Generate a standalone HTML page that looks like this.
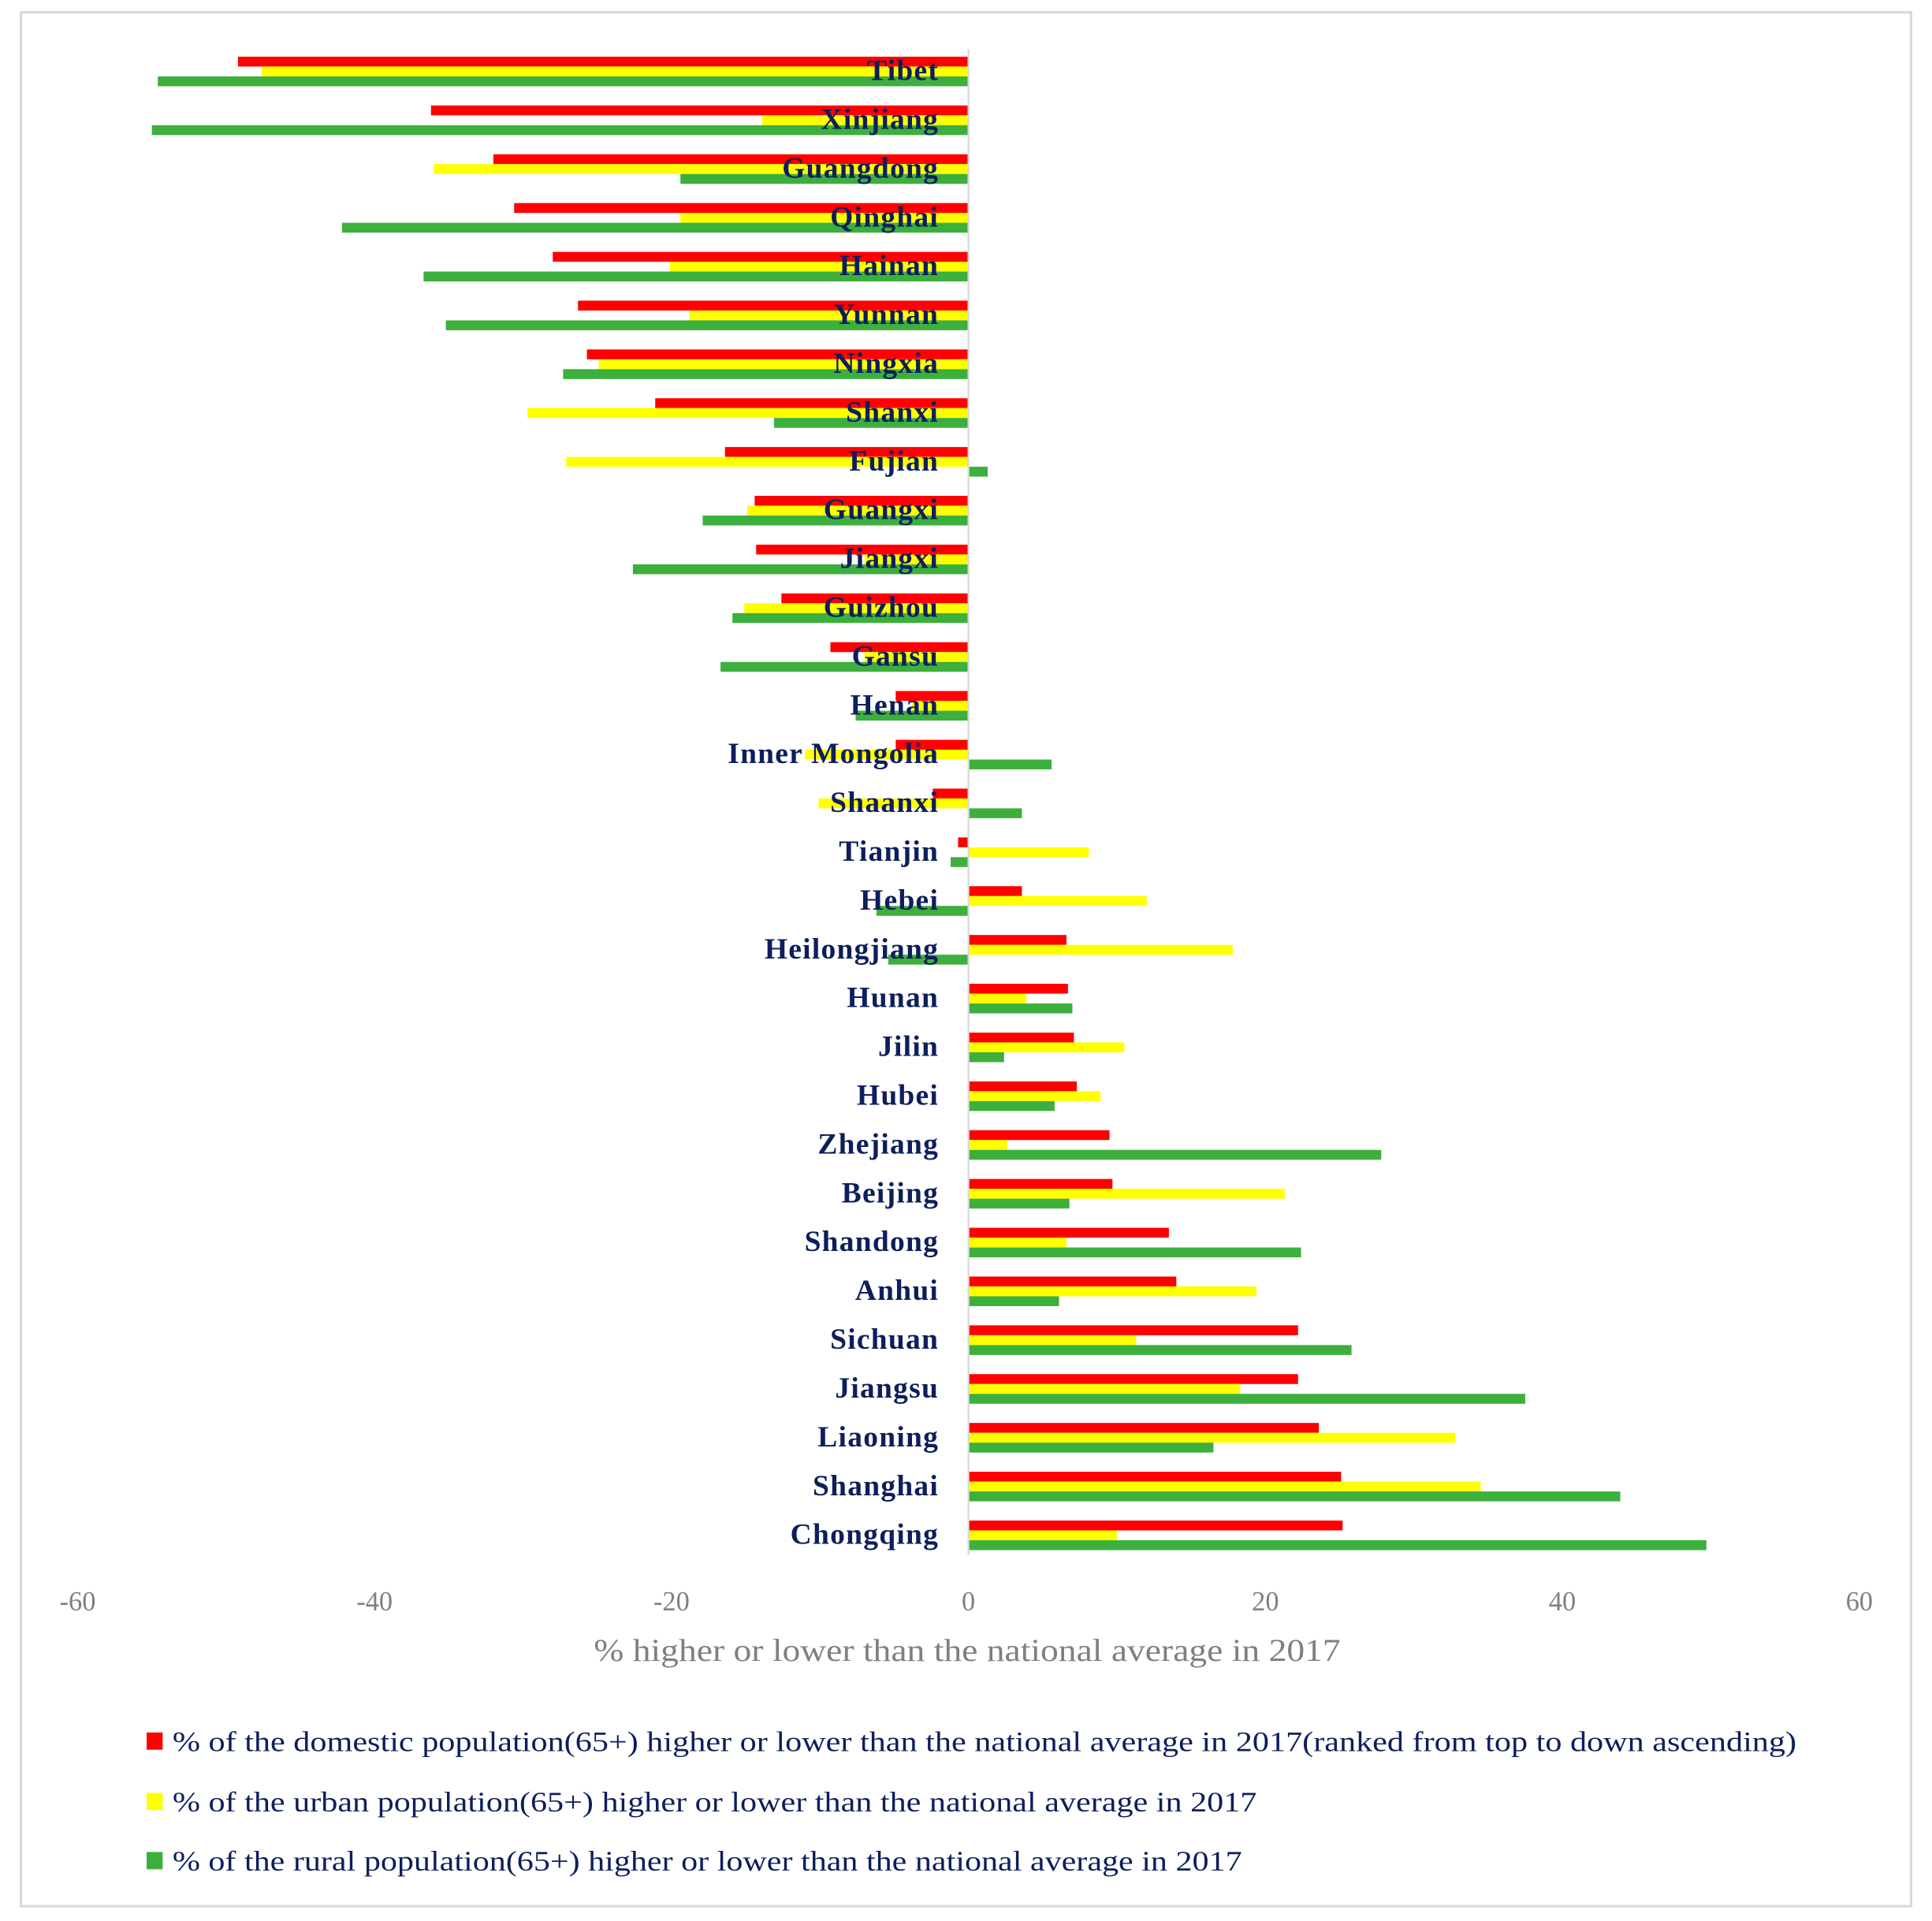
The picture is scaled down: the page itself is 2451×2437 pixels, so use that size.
<!DOCTYPE html>
<html><head><meta charset="utf-8"><style>
html,body{margin:0;padding:0;background:#fff;}
svg{display:block;}
</style></head><body>
<svg id="chart" width="2451" height="2437" viewBox="0 0 1568 1559" preserveAspectRatio="none" xmlns="http://www.w3.org/2000/svg">
<rect x="17" y="10" width="1534" height="1537" fill="#fff" stroke="#d9d9d9" stroke-width="2"/>
<g id="bars"></g>
<line x1="786" y1="40" x2="786" y2="1262" stroke="#d9d9d9" stroke-width="1.5"/>
<g id="labels"></g>
<g id="ticks"></g>
<text x="482" y="1348" textLength="606" lengthAdjust="spacingAndGlyphs" font-family="Liberation Serif, serif" font-size="26" fill="#7f7f7f">% higher or lower than the national average in 2017</text>
<g font-family="Liberation Serif, serif" font-size="23" fill="#0d1e5c">
<g><rect x="119" y="1406" width="13" height="14" fill="#ff0000"/><text x="140" y="1421" textLength="1318" lengthAdjust="spacingAndGlyphs">% of the domestic population(65+) higher or lower than the national average in 2017(ranked from top to down ascending)</text></g>
<g><rect x="119" y="1455" width="13" height="14" fill="#ffff00"/><text x="140" y="1470" textLength="880" lengthAdjust="spacingAndGlyphs">% of the urban population(65+) higher or lower than the national average in 2017</text></g>
<g><rect x="119" y="1503" width="13" height="14" fill="#3daf3d"/><text x="140" y="1518" textLength="868" lengthAdjust="spacingAndGlyphs">% of the rural population(65+) higher or lower than the national average in 2017</text></g>
</g>
</svg>
<script>
const categories=["Tibet","Xinjiang","Guangdong","Qinghai","Hainan","Yunnan","Ningxia","Shanxi","Fujian","Guangxi","Jiangxi","Guizhou","Gansu","Henan","Inner Mongolia","Shaanxi","Tianjin","Hebei","Heilongjiang","Hunan","Jilin","Hubei","Zhejiang","Beijing","Shandong","Anhui","Sichuan","Jiangsu","Liaoning","Shanghai","Chongqing"];
const domestic=[-49.2,-36.2,-32.0,-30.6,-28.0,-26.3,-25.7,-21.1,-16.4,-14.4,-14.3,-12.6,-9.3,-4.9,-4.9,-2.4,-0.7,3.6,6.6,6.7,7.1,7.3,9.5,9.7,13.5,14.0,22.2,22.2,23.6,25.1,25.2];
const urban=[-47.6,-13.9,-36.0,-19.4,-20.1,-18.8,-24.9,-29.7,-27.1,-14.9,-7.0,-15.1,-7.0,-3.8,-11.0,-10.1,8.1,12.0,17.8,3.9,10.5,8.9,2.6,21.3,6.6,19.4,11.3,18.3,32.8,34.5,10.0];
const rural=[-54.6,-55.0,-19.4,-42.2,-36.7,-35.2,-27.3,-13.1,1.3,-17.9,-22.6,-15.9,-16.7,-7.6,5.6,3.6,-1.2,-6.2,-5.4,7.0,2.4,5.8,27.8,6.8,22.4,6.1,25.8,37.5,16.5,43.9,49.7];
const tickValues=[-60,-40,-20,0,20,40,60];
const NS="http://www.w3.org/2000/svg";
const x=v=>786+v*12.05;
const yc=i=>58+i*39.6;
const bars=document.getElementById('bars'),labels=document.getElementById('labels'),ticks=document.getElementById('ticks');
const series=[[domestic,"#ff0000","domestic"],[urban,"#ffff00","urban"],[rural,"#3daf3d","rural"]];
categories.forEach((c,i)=>{
  series.forEach(([arr,col,nm],k)=>{
    const v=arr[i];const r=document.createElementNS(NS,'rect');
    r.setAttribute('x',Math.min(x(0),x(v)));r.setAttribute('width',Math.abs(x(v)-x(0)));
    r.setAttribute('y',yc(i)-12+k*8);r.setAttribute('height',8);r.setAttribute('fill',col);
    
    
    bars.appendChild(r);
  });
  const t=document.createElementNS(NS,'text');
  t.setAttribute('x',762);t.setAttribute('y',yc(i)+7);t.setAttribute('text-anchor','end');
  t.setAttribute('font-family','Liberation Serif, serif');t.setAttribute('font-size','24');t.setAttribute('font-weight','bold');t.setAttribute('fill','#0d1e5c');
  t.setAttribute('letter-spacing','0.8');
  t.textContent=c;
  
  
  labels.appendChild(t);
});
tickValues.forEach(v=>{
  const t=document.createElementNS(NS,'text');
  t.setAttribute('x',x(v));t.setAttribute('y',1307);t.setAttribute('text-anchor','middle');
  t.setAttribute('font-family','Liberation Serif, serif');t.setAttribute('font-size','22');t.setAttribute('fill','#7f7f7f');
  t.textContent=v;
  
  
  ticks.appendChild(t);
});
</script>
</body></html>
